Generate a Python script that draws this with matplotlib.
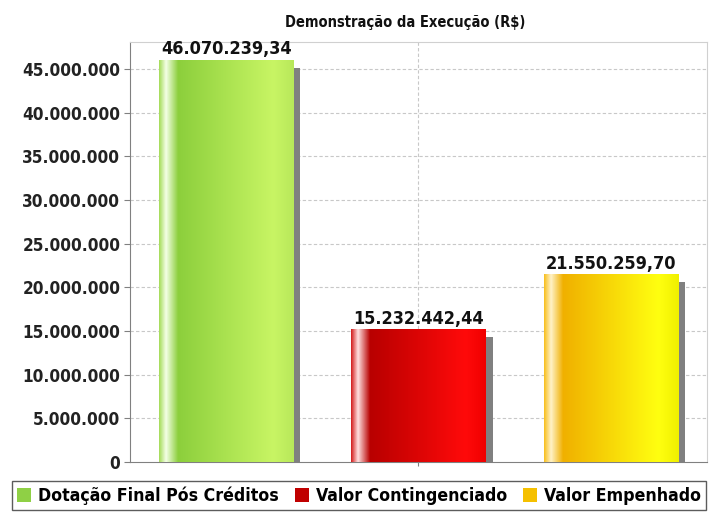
#!/usr/bin/env python3
"""
Bar chart: Demonstração da Execução (R$).
"""

import matplotlib
matplotlib.use("Agg")
import matplotlib.pyplot as plt
import numpy as np
from matplotlib.colors import to_rgb
from matplotlib.patches import Rectangle, Patch
from matplotlib.ticker import FuncFormatter

# --------------------------------- DATA --------------------------------------
categories = ["Dotação Final Pós Créditos", "Valor Contingenciado",
              "Valor Empenhado"]
values = [46070239.34, 15232442.44, 21550259.70]
value_labels = ["46.070.239,34", "15.232.442,44", "21.550.259,70"]
y_ticks = [0, 5000000, 10000000, 15000000, 20000000, 25000000, 30000000,
           35000000, 40000000, 45000000]
# --------------------------------- DATA --------------------------------------

legend_colors = ["#8fd045", "#c00000", "#f5c000"]
gradient_stops = [
    [(0.0, "#a6dc5a"), (0.05, "#f4ffe6"), (0.14, "#8ccf3c"),
     (0.85, "#c8f564"), (1.0, "#b8e85a")],
    [(0.0, "#d42020"), (0.05, "#ffe0e0"), (0.14, "#b80000"),
     (0.85, "#ff0a0a"), (1.0, "#f00000")],
    [(0.0, "#f8c020"), (0.05, "#fff2c8"), (0.14, "#f0b000"),
     (0.85, "#ffff10"), (1.0, "#f0f000")],
]

FONT = dict(family="DejaVu Sans", fontweight="bold", fontstretch="condensed")


def _gradient(stops, n=200):
    pos = [s[0] for s in stops]
    cols = np.array([to_rgb(s[1]) for s in stops])
    xs = np.linspace(0, 1, n)
    img = np.stack([np.interp(xs, pos, cols[:, c]) for c in range(3)], axis=-1)
    return img[np.newaxis, :, :]


def _thousands(v, _pos):
    return f"{int(v):,}".replace(",", ".")


def main():
    fig = plt.figure(figsize=(7.13, 5.14), dpi=100)
    ax = fig.add_axes([0.1823, 0.1012, 0.8093, 0.8171])

    x = np.arange(len(categories))
    width = 0.70
    ymax = 48100000
    ax.set_xlim(-0.5, len(categories) - 0.5)
    ax.set_ylim(0, ymax)

    # Grid
    for t in y_ticks[1:]:
        ax.axhline(t, color="#c8c8c8", linestyle=(0, (3, 2)), linewidth=0.8,
                   zorder=0)
    ax.axvline(1, color="#c8c8c8", linestyle=(0, (3, 2)), linewidth=0.8,
               zorder=0)

    # Shadow offset in data units
    dx = 0.035
    dy = ymax * 8 / 420

    bars = ax.bar(x, values, width=width, color="none", zorder=3)
    for i, rect in enumerate(bars):
        x0 = rect.get_x()
        h = rect.get_height()
        ax.add_patch(Rectangle((x0 + dx, 0), width, h - dy,
                               facecolor="#808080", edgecolor="none",
                               zorder=2))
        im = ax.imshow(_gradient(gradient_stops[i]),
                       extent=(x0, x0 + width, 0, h),
                       aspect="auto", zorder=3, interpolation="bilinear")
        im.set_clip_path(rect)
        ax.text(x[i], h + ymax * 0.003, value_labels[i], ha="center",
                va="bottom", fontsize=13, color="#111111", zorder=5,
                **FONT)

    ax.set_xlim(-0.5, len(categories) - 0.5)
    ax.set_ylim(0, ymax)
    ax.set_yticks(y_ticks)
    ax.yaxis.set_major_formatter(FuncFormatter(_thousands))
    ax.set_xticks([1])
    ax.set_xticklabels([""])
    ax.tick_params(axis="y", length=4, color="#808080", labelsize=12.3,
                   pad=3)
    ax.tick_params(axis="x", length=3, color="#808080")
    for lab in ax.get_yticklabels():
        lab.set_fontweight("bold")
        lab.set_fontstretch("condensed")
        lab.set_color("#222222")

    for side in ("left", "bottom"):
        ax.spines[side].set_color("#808080")
    for side in ("top", "right"):
        ax.spines[side].set_color("#d0d0d0")

    fig.text(0.568, 0.957, "Demonstração da Execução (R$)", ha="center",
             va="center", fontsize=10.5, color="#111111", **FONT)

    handles = [Patch(facecolor=c, edgecolor="none") for c in legend_colors]
    leg = fig.legend(handles, categories, loc="lower left",
                     bbox_to_anchor=(8 / 713, 0.0), ncol=3, frameon=True,
                     fancybox=False, handlelength=0.8, handleheight=0.8,
                     handletextpad=0.4, columnspacing=0.9, borderpad=0.3,
                     borderaxespad=0.2,
                     prop=dict(family="DejaVu Sans", weight="bold",
                               stretch="condensed", size=12.7))
    leg.get_frame().set_edgecolor("#333333")
    leg.get_frame().set_linewidth(1.0)

    fig.savefig("out.png", dpi=100)


if __name__ == "__main__":
    main()
